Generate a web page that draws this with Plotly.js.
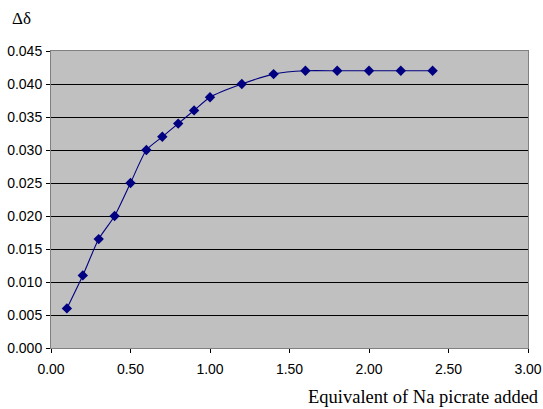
<!DOCTYPE html>
<html>
<head>
<meta charset="utf-8">
<script src="https://cdn.plot.ly/plotly-3.0.1.min.js"></script>
<style>html,body{margin:0;padding:0;background:#fff;}#chart{width:543px;height:409px;}</style>
</head>
<body>
<div id="chart"></div>
<script>
const equivalents = [0.1, 0.2, 0.3, 0.4, 0.5, 0.6, 0.7, 0.8, 0.9, 1.0, 1.2, 1.4, 1.6, 1.8, 2.0, 2.2, 2.4];
const deltaShift = [0.006, 0.011, 0.0165, 0.020, 0.025, 0.030, 0.032, 0.034, 0.036, 0.038, 0.040, 0.0415, 0.042, 0.042, 0.042, 0.042, 0.042];
const xTickVals = [0, 0.5, 1.0, 1.5, 2.0, 2.5, 3.0];
const xTickText = ["0.00", "0.50", "1.00", "1.50", "2.00", "2.50", "3.00"];
const yTickVals = [0, 0.005, 0.010, 0.015, 0.020, 0.025, 0.030, 0.035, 0.040, 0.045];
const yTickText = ["0.000", "0.005", "0.010", "0.015", "0.020", "0.025", "0.030", "0.035", "0.040", "0.045"];
const xTitle = "Equivalent of Na picrate added";
const yTitle = "Δδ";

const trace = {
  x: equivalents, y: deltaShift, type: 'scatter', mode: 'lines+markers',
  line: {color: '#000080', width: 1.1, shape: 'spline', smoothing: 0.6},
  marker: {symbol: 'diamond', size: 8, color: '#000080'},
  hoverinfo: 'none'
};
const tf = {family: 'Liberation Sans, Arial, sans-serif', size: 14, color: '#000'};
const layout = {
  width: 543, height: 409,
  margin: {l: 51, r: 15, t: 51, b: 61},
  paper_bgcolor: '#ffffff', plot_bgcolor: '#c0c0c0',
  showlegend: false,
  font: tf,
  xaxis: {
    range: [0, 3], tickvals: xTickVals, ticktext: xTickText,
    showgrid: false, zeroline: false, showline: true, linecolor: '#808080', linewidth: 1,
    mirror: true, ticks: 'outside', ticklen: 4, tickcolor: '#000',
    ticklabelstandoff: 4, tickfont: tf
  },
  yaxis: {
    range: [0, 0.045], tickvals: yTickVals, ticktext: yTickText,
    showgrid: true, gridcolor: '#000000', gridwidth: 1, zeroline: false,
    showline: true, linecolor: '#808080', linewidth: 1, mirror: true,
    ticks: 'outside', ticklen: 4, tickcolor: '#000',
    ticklabelstandoff: 1, tickfont: tf
  },
  annotations: [
    {text: yTitle, xref: 'paper', yref: 'paper', x: -0.085, y: 1.11, xanchor: 'left', yanchor: 'middle',
     showarrow: false, font: {family: 'Liberation Serif, Times New Roman, serif', size: 17, color: '#000'}},
    {text: xTitle, xref: 'paper', yref: 'paper', x: 1.027, y: -0.165, xanchor: 'right', yanchor: 'middle',
     showarrow: false, font: {family: 'Liberation Serif, Times New Roman, serif', size: 18.5, color: '#000'}}
  ]
};
Plotly.newPlot('chart', [trace], layout, {staticPlot: true, displayModeBar: false});
</script>
</body>
</html>
